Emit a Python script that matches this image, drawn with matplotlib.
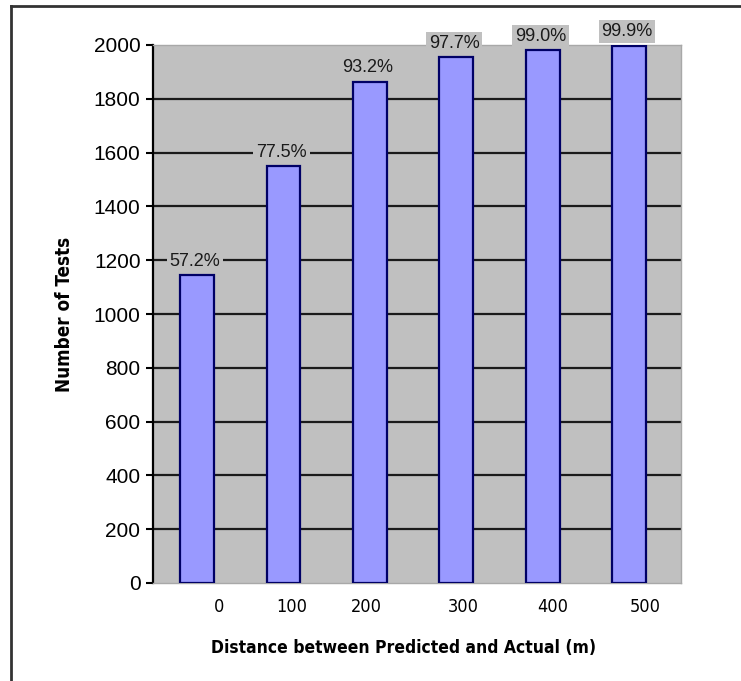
import matplotlib
matplotlib.use("Agg")
import matplotlib.pyplot as plt
from matplotlib.lines import Line2D
from matplotlib.transforms import ScaledTranslation

categories = ["0", "100", "200", "300", "400", "500"]
counts = [1144, 1550, 1864, 1954, 1980, 1998]
pct_labels = ["57.2%", "77.5%", "93.2%", "97.7%", "99.0%", "99.9%"]
yticks = [0, 200, 400, 600, 800, 1000, 1200, 1400, 1600, 1800, 2000]

NARROW = ["DejaVu Sans"]
REG = ["Liberation Sans", "DejaVu Sans"]

fig = plt.figure(figsize=(7.41, 6.81), dpi=100)
fig.patch.set_facecolor("white")
ax = fig.add_axes([153/741, 98/681, 528/741, 538/681])
ax.set_facecolor("#C0C0C0")

x = list(range(len(categories)))
ax.bar(x, counts, width=0.39, color="#9999FF", edgecolor="#000066",
       linewidth=1.6, zorder=3)

for t in yticks[1:-1]:
    ax.axhline(t, color="#1a1a1a", linewidth=1.6, zorder=2)

ax.set_ylim(0, 2000)
ax.set_xlim(-0.51, 5.6)
ax.set_yticks(yticks)
ax.set_yticklabels([str(t) for t in yticks], family=REG, fontsize=15)
ax.tick_params(axis="y", direction="out", length=5, width=1.5, color="black", pad=4)

ax.set_xticks(x)
ax.set_xticklabels(categories, family=NARROW, stretch="condensed", fontsize=13)
ax.tick_params(axis="x", length=0, pad=11)
offs = [22, 8, -4, 7, 10, 16]
for lab, o in zip(ax.get_xticklabels(), offs):
    lab.set_transform(lab.get_transform() + ScaledTranslation(o/100, 0, fig.dpi_scale_trans))

for s in ["top", "right", "bottom"]:
    ax.spines[s].set_color("#A8A8A8")
    ax.spines[s].set_linewidth(1)
ax.spines["left"].set_color("black")
ax.spines["left"].set_linewidth(1.6)

for xi, c, lab in zip(x, counts, pct_labels):
    ax.annotate(lab, (xi, c), xytext=(-2, 14), textcoords="offset pixels",
                ha="center", va="center", family=REG, fontsize=13, color="#1a1a1a",
                bbox=dict(boxstyle="square,pad=0.15", facecolor="#C0C0C0", edgecolor="none"),
                zorder=5, annotation_clip=False)

ax.set_ylabel("Number of Tests", family=NARROW, stretch="condensed", fontsize=13.5,
              fontweight="bold", labelpad=14)
ax.set_xlabel("Distance between Predicted and Actual (m)", family=NARROW, stretch="condensed",
              fontsize=12.5, fontweight="bold", labelpad=16)
ax.xaxis.set_label_coords(0.475, -0.105)

# outer frame lines (left and top)
fig.add_artist(Line2D([11/741, 11/741], [0, 1 - 6/681], transform=fig.transFigure,
                      color="#333333", linewidth=2))
fig.add_artist(Line2D([11/741, 1], [1 - 6/681, 1 - 6/681], transform=fig.transFigure,
                      color="#333333", linewidth=2))

fig.savefig("out.png", dpi=100)
